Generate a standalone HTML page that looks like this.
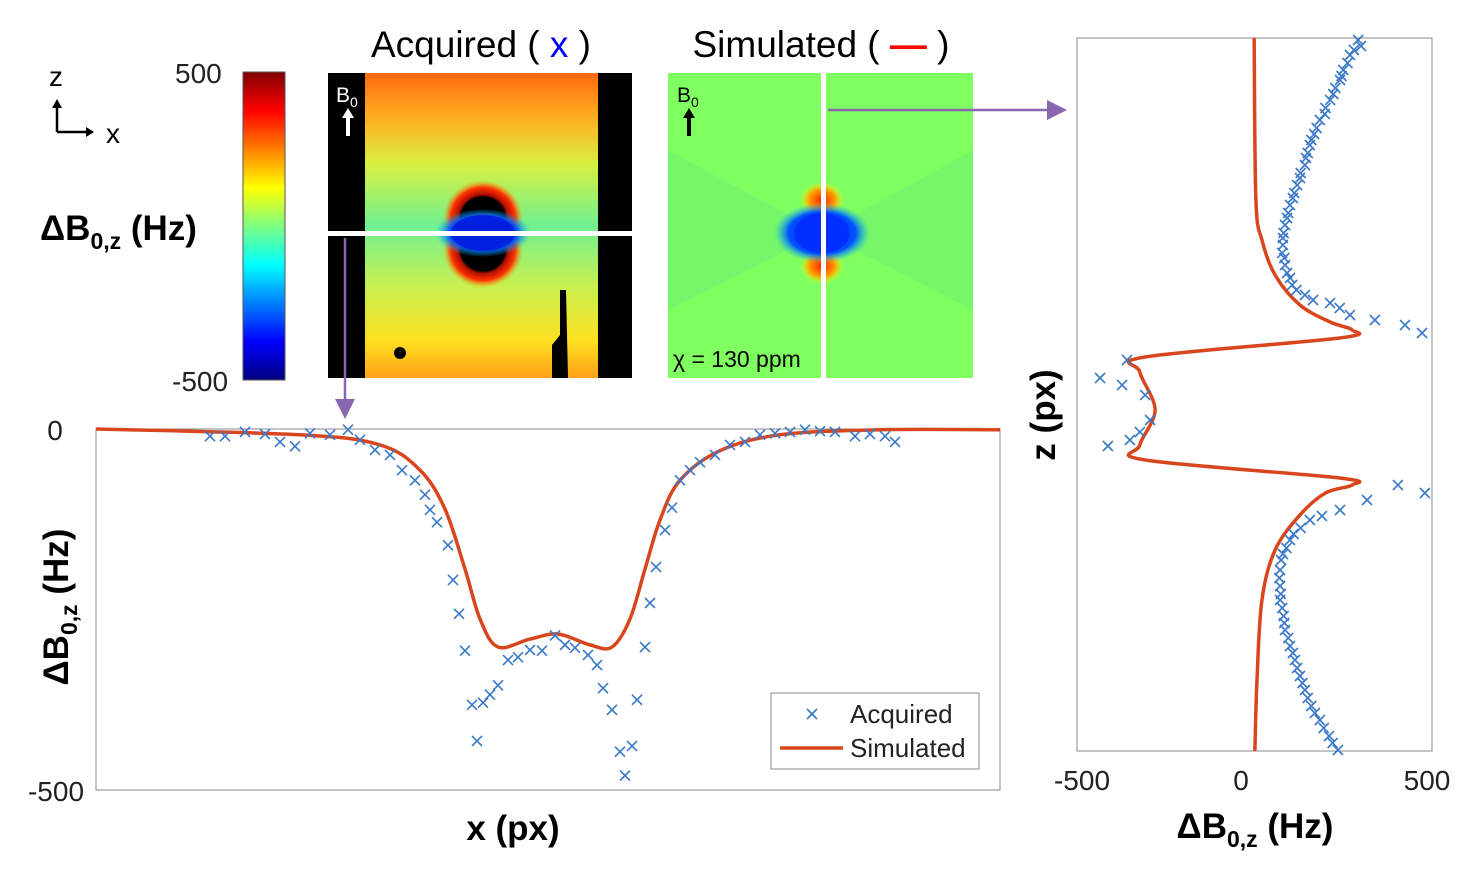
<!DOCTYPE html>
<html><head><meta charset="utf-8">
<style>
body{margin:0;width:1467px;height:873px;background:#fff;position:relative;overflow:hidden;font-family:"Liberation Sans",sans-serif;}
</style></head>
<body>
<svg id="fig" width="1467" height="873" style="position:absolute;left:0;top:0">
<defs>
<linearGradient id="jet" x1="0" y1="0" x2="0" y2="1">
<stop offset="0" stop-color="#800000"/><stop offset="0.125" stop-color="#ff0000"/><stop offset="0.375" stop-color="#ffff00"/>
<stop offset="0.625" stop-color="#00ffff"/><stop offset="0.875" stop-color="#0000ff"/><stop offset="1" stop-color="#000080"/>
</linearGradient>
<linearGradient id="acq" x1="0" y1="0" x2="0" y2="1">
<stop offset="0" stop-color="#ff6a10"/><stop offset="0.15" stop-color="#ffb020"/><stop offset="0.3" stop-color="#d8f040"/>
<stop offset="0.5" stop-color="#70f090"/><stop offset="0.7" stop-color="#c8f050"/><stop offset="0.88" stop-color="#ffe020"/><stop offset="1" stop-color="#ffa018"/>
</linearGradient>
<radialGradient id="blueb"><stop offset="0" stop-color="#0030ff"/><stop offset="0.7" stop-color="#0050ff"/><stop offset="1" stop-color="#00c0ff" stop-opacity="0"/></radialGradient>
<radialGradient id="redb"><stop offset="0" stop-color="#ff2000"/><stop offset="0.6" stop-color="#ffa000"/><stop offset="1" stop-color="#ffff00" stop-opacity="0"/></radialGradient>
<radialGradient id="redarc"><stop offset="0.55" stop-color="#000"/><stop offset="0.62" stop-color="#b01000"/><stop offset="0.8" stop-color="#ff3000"/><stop offset="1" stop-color="#ffa000" stop-opacity="0"/></radialGradient>
<marker id="ah" markerWidth="8" markerHeight="8" refX="6" refY="4" orient="auto"><path d="M0,0 L8,4 L0,8 z" fill="#8a66b0"/></marker>
</defs>

<g>
<text x="49" y="86" font-size="28">z</text>
<line x1="57" y1="104" x2="57" y2="132" stroke="#000" stroke-width="2.5"/>
<path d="M52,108 L57,99 L62,108z" fill="#000"/>
<line x1="57" y1="132" x2="88" y2="132" stroke="#000" stroke-width="2.5"/>
<path d="M86,127 L94,132 L86,137z" fill="#000"/>
<text x="106" y="143" font-size="28">x</text>
</g>

<rect x="243" y="72" width="42" height="308" fill="url(#jet)" stroke="#555"/>
<text x="175" y="83" font-size="28" fill="#222">500</text>
<text x="172" y="391" font-size="28" fill="#222">-500</text>
<text x="40" y="240" font-size="35" font-weight="bold">ΔB<tspan font-size="23" dy="9">0,z</tspan><tspan dy="-9"> (Hz)</tspan></text>

<g>
<rect x="328" y="73" width="304" height="305" fill="#000"/>
<rect x="365" y="73" width="233" height="305" fill="url(#acq)"/>
<ellipse cx="483" cy="218" rx="40" ry="38" fill="url(#redarc)"/>
<ellipse cx="483" cy="250" rx="40" ry="38" fill="url(#redarc)"/>
<ellipse cx="483" cy="233" rx="48" ry="24" fill="url(#blueb)"/>
<ellipse cx="483" cy="233" rx="32" ry="18" fill="#0020e0"/>
<path d="M560,290 L566,290 L568,378 L552,378 L552,345 L560,335z" fill="#000"/>
<circle cx="400" cy="353" r="6" fill="#000"/>
<rect x="328" y="231" width="304" height="5" fill="#fff"/>
<text x="336" y="102" font-size="21" fill="#fff">B<tspan font-size="14" dy="5">0</tspan></text>
<rect x="346" y="114" width="4" height="22" fill="#fff"/><path d="M342,118 L348,108 L354,118z" fill="#fff"/>
</g>
<text x="481" y="57" font-size="37" text-anchor="middle">Acquired ( <tspan fill="#0000ff">x</tspan> )</text>

<g>
<rect x="668" y="73" width="305" height="305" fill="#80ff60"/>
<path d="M668,150 L822,233 L668,310z M973,150 L822,233 L973,310z" fill="#70f070" opacity="0.6"/>
<ellipse cx="822" cy="200" rx="22" ry="18" fill="url(#redb)"/>
<ellipse cx="822" cy="266" rx="22" ry="18" fill="url(#redb)"/>
<ellipse cx="822" cy="233" rx="48" ry="30" fill="url(#blueb)"/>
<ellipse cx="822" cy="233" rx="28" ry="20" fill="#0030ff"/>
<rect x="821" y="73" width="5" height="305" fill="#fff"/>
<text x="677" y="102" font-size="21">B<tspan font-size="14" dy="5">0</tspan></text>
<rect x="687" y="114" width="4" height="22" fill="#000"/><path d="M683,118 L689,108 L695,118z" fill="#000"/>
<text x="673" y="367" font-size="23">χ = 130 ppm</text>
</g>
<text x="821" y="57" font-size="37" text-anchor="middle">Simulated ( <tspan fill="#ff0000" font-weight="bold">—</tspan> )</text>

<line x1="828" y1="110" x2="1062" y2="110" stroke="#8a66b0" stroke-width="2.5" marker-end="url(#ah)"/>
<line x1="345" y1="238" x2="345" y2="414" stroke="#8a66b0" stroke-width="2.5" marker-end="url(#ah)"/>

<rect x="96" y="429" width="904" height="361" fill="none" stroke="#888"/>
<text x="55" y="440" font-size="28" text-anchor="middle" fill="#222">0</text>
<text x="56" y="801" font-size="28" text-anchor="middle" fill="#222">-500</text>
<text transform="translate(68,607) rotate(-90)" font-size="35" font-weight="bold" text-anchor="middle">ΔB<tspan font-size="23" dy="9">0,z</tspan><tspan dy="-9"> (Hz)</tspan></text>
<text x="513" y="840" font-size="35" font-weight="bold" text-anchor="middle">x (px)</text>
<g id="bottomMarks"></g>
<g>
<rect x="771" y="693" width="208" height="76" fill="#fff" stroke="#888"/>
<path d="M807,709 L817,719 M817,709 L807,719" stroke="#3a78c8" stroke-width="1.6"/>
<text x="850" y="723" font-size="26" fill="#222">Acquired</text>
<line x1="780" y1="748" x2="843" y2="748" stroke="#d9461e" stroke-width="3.5"/>
<text x="850" y="757" font-size="26" fill="#222">Simulated</text>
</g>

<rect x="1077" y="38" width="355" height="713" fill="none" stroke="#888"/>
<text x="1082" y="790" font-size="28" text-anchor="middle" fill="#222">-500</text>
<text x="1241" y="790" font-size="28" text-anchor="middle" fill="#222">0</text>
<text x="1427" y="790" font-size="28" text-anchor="middle" fill="#222">500</text>
<text x="1255" y="838" font-size="35" font-weight="bold" text-anchor="middle">ΔB<tspan font-size="23" dy="9">0,z</tspan><tspan dy="-9"> (Hz)</tspan></text>
<text transform="translate(1055,415) rotate(-90)" font-size="35" font-weight="bold" text-anchor="middle">z (px)</text>
<g id="rightMarks"></g>
</svg>
<script>
// bottom plot (x profile): x in px index 0..904, value in Hz
const bxSim = [0,204,284,324,349,369,384,402,434,462,494,516,534,549,564,584,624,684,784,904];
const bySim = [0,-8,-22,-57,-111,-194,-263,-302,-291,-284,-299,-302,-263,-194,-126,-71,-30,-8,-1,-1];
const bxAcq = [114,129,149,169,184,199,214,234,252,264,279,294,306,319,329,334,341,352,357,363,369,376,381,387,394,402,412,422,434,446,459,469,479,492,501,507,516,524,529,536,541,549,554,560,569,576,584,594,604,619,634,649,664,679,694,709,724,739,759,774,789,799];
const byAcq = [-10,-10,-4,-7,-18,-24,-6,-8,-1,-15,-29,-36,-57,-71,-91,-112,-129,-161,-209,-256,-307,-382,-432,-379,-368,-355,-320,-316,-306,-307,-286,-299,-303,-313,-327,-359,-389,-447,-480,-439,-375,-302,-241,-191,-140,-109,-71,-57,-46,-36,-22,-18,-8,-6,-4,-1,-3,-4,-10,-7,-10,-18];
// right plot (z profile): z in px 0..713, value in Hz
const rzSim = [0,162,202,237,267,284,292,300,319,334,372,407,422,440,447,455,477,512,562,642,713];
const rvSim = [-1,4,21,58,128,213,275,240,-308,-323,-280,-323,-308,240,275,200,128,58,21,7,1];
const rzAcq = [2,8,12,17,25,32,38,42,50,56,62,70,76,82,90,96,102,107,115,120,127,135,140,147,155,160,167,175,180,187,195,200,207,215,220,227,235,240,247,252,257,262,265,270,277,282,287,295,322,340,347,357,382,394,402,408,447,455,462,472,478,482,490,496,502,510,516,522,532,540,548,556,562,570,578,585,592,600,608,615,622,630,638,645,652,660,668,675,682,690,698,705,712];
const rvAcq = [292,300,280,269,262,250,245,241,228,222,213,200,198,184,175,168,160,156,150,145,142,130,128,120,112,108,100,95,92,86,82,80,80,78,84,86,92,100,106,118,142,165,213,240,269,339,424,472,-359,-435,-373,-308,-294,-323,-351,-413,404,480,317,241,190,156,130,110,100,90,80,75,72,70,72,74,72,78,82,84,86,95,100,108,114,120,128,135,142,150,160,170,184,195,210,220,235];

const NS='http://www.w3.org/2000/svg';
const bX = v => 96 + v;
const bY = v => 429 - v*(361/500);
const rX = v => 1254.5 + v*(355/1000);
const rY = v => 38 + v;

function cross(g,cx,cy,name){
  const p=document.createElementNS(NS,'path');
  p.setAttribute('d',`M${cx-5},${cy-5} L${cx+5},${cy+5} M${cx+5},${cy-5} L${cx-5},${cy+5}`);
  p.setAttribute('stroke','#3a78c8');p.setAttribute('stroke-width','1.6');p.setAttribute('fill','none');
  
  
  g.appendChild(p);
}
function smooth(pts){
  let d=`M${pts[0][0]},${pts[0][1]}`;
  for(let i=0;i<pts.length-1;i++){
    const p0=pts[Math.max(0,i-1)],p1=pts[i],p2=pts[i+1],p3=pts[Math.min(pts.length-1,i+2)];
    const c1=[p1[0]+(p2[0]-p0[0])/6,p1[1]+(p2[1]-p0[1])/6];
    const c2=[p2[0]-(p3[0]-p1[0])/6,p2[1]-(p3[1]-p1[1])/6];
    d+=` C${c1[0]},${c1[1]} ${c2[0]},${c2[1]} ${p2[0]},${p2[1]}`;
  }
  return d;
}
function line(g,pts,name){
  const p=document.createElementNS(NS,'path');
  p.setAttribute('d',smooth(pts));
  p.setAttribute('stroke','#d9461e');p.setAttribute('stroke-width','3.5');p.setAttribute('fill','none');
  p.setAttribute('stroke-linejoin','round');
  
  
  g.appendChild(p);
}
const bg=document.getElementById('bottomMarks');
line(bg,bxSim.map((x,i)=>[bX(x),bY(bySim[i])]),'simulated-x-profile');
bxAcq.forEach((x,i)=>cross(bg,bX(x),bY(byAcq[i]),'acquired-x-point'));
const rg=document.getElementById('rightMarks');
line(rg,rzSim.map((z,i)=>[rX(rvSim[i]),rY(z)]),'simulated-z-profile');
rzAcq.forEach((z,i)=>cross(rg,rX(rvAcq[i]),rY(z),'acquired-z-point'));
</script>
</body></html>
